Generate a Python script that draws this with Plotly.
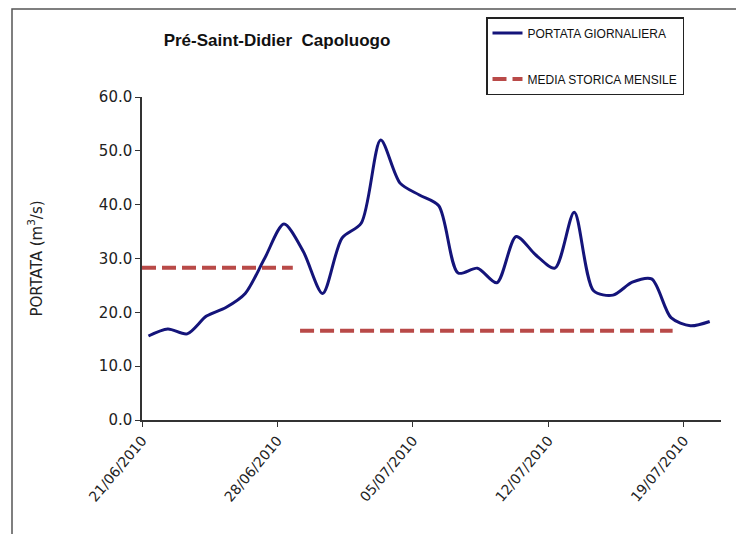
import plotly.graph_objects as go
import pandas as pd

# --- data ---
start_date = "2010-06-21"
portata_giornaliera = [15.6, 16.9, 16.0, 19.3, 20.9, 23.5, 30.0, 36.4, 31.3, 23.5,
                       33.8, 36.6, 52.0, 44.0, 41.8, 39.8, 27.3, 28.2, 25.5, 34.1,
                       30.7, 28.2, 38.6, 24.0, 23.2, 25.6, 26.2, 19.0, 17.5, 18.3]
dates = pd.date_range(start_date + " 08:00", periods=len(portata_giornaliera), freq="D")

media_giugno = 28.3
media_luglio = 16.6
giugno_x = ["2010-06-21 00:00", "2010-06-28 19:00"]
luglio_x = ["2010-06-29 04:00", "2010-07-18 10:00"]

tick_dates = ["2010-06-21", "2010-06-28", "2010-07-05", "2010-07-12", "2010-07-19"]
tick_labels = ["21/06/2010", "28/06/2010", "05/07/2010", "12/07/2010", "19/07/2010"]
y_ticks = [0, 10, 20, 30, 40, 50, 60]

# page body has an 8px default margin: compensate
OFF = 8
W, H = 744, 534
L, R, T, B = 142 - OFF, 721 - OFF, 97 - OFF, 420 - OFF
PW, PH = R - L, B - T

fig = go.Figure()
fig.add_trace(go.Scatter(
    x=dates, y=portata_giornaliera, mode="lines", name="PORTATA GIORNALIERA",
    line=dict(color="#14147a", width=3, shape="spline", smoothing=0.8),
    legendgroup="a",
))
fig.add_trace(go.Scatter(
    x=giugno_x, y=[media_giugno, media_giugno], mode="lines",
    name="MEDIA STORICA MENSILE",
    line=dict(color="#b94a48", width=4, dash="14px,6px"),
    legendgroup="b",
))
fig.add_trace(go.Scatter(
    x=luglio_x, y=[media_luglio, media_luglio], mode="lines",
    name="MEDIA STORICA MENSILE", showlegend=False,
    line=dict(color="#b94a48", width=4, dash="14px,6px"),
    legendgroup="b",
))

fig.update_layout(
    width=W, height=H,
    margin=dict(l=L, r=W - R, t=T, b=H - B, autoexpand=False),
    paper_bgcolor="white", plot_bgcolor="white",
    font=dict(family="DejaVu Sans, Arial, sans-serif", color="#222"),
    title=dict(text="<b>Pré-Saint-Didier  Capoluogo</b>", x=(277 - OFF) / W, xanchor="center",
               xref="container", yref="container",
               y=1 - (40 - OFF) / H, yanchor="middle",
               font=dict(family="Liberation Sans, Arial, sans-serif", size=17, color="#111")),
    showlegend=True,
    legend=dict(x=(486 - OFF - L) / PW, y=(B - (17 - OFF)) / PH, xanchor="left", yanchor="top",
                bordercolor="#222", borderwidth=1.5, bgcolor="white",
                font=dict(family="Liberation Sans, Arial, sans-serif", size=12, color="#111"),
                tracegroupgap=27, traceorder="grouped", itemwidth=30),
    shapes=[dict(type="rect", xref="paper", yref="paper",
                 x0=(12 - OFF - L) / PW, x1=(740 - OFF - L) / PW,
                 y0=-200 / PH, y1=(B - 1) / PH,
                 line=dict(color="#555", width=1.5), layer="below")],
)
fig.update_xaxes(
    type="date", range=["2010-06-21", "2010-07-20 22:00"],
    tickvals=tick_dates, ticktext=tick_labels, tickangle=-50,
    ticks="outside", ticklen=5, tickcolor="#333", automargin=False,
    showline=True, linecolor="#333", linewidth=1.5, showgrid=False, zeroline=False,
    tickfont=dict(size=14, color="#222"),
)
fig.update_yaxes(
    range=[0, 60], tickvals=y_ticks, tickformat=".1f", automargin=False,
    ticks="outside", ticklen=5, tickcolor="#333",
    showline=True, linecolor="#333", linewidth=1.5, showgrid=False, zeroline=False,
    tickfont=dict(size=15, color="#222"),
    title=dict(text="PORTATA (m<sup>3</sup>/s)", font=dict(size=15, color="#222"), standoff=53),
)

fig.write_html("out.html")
